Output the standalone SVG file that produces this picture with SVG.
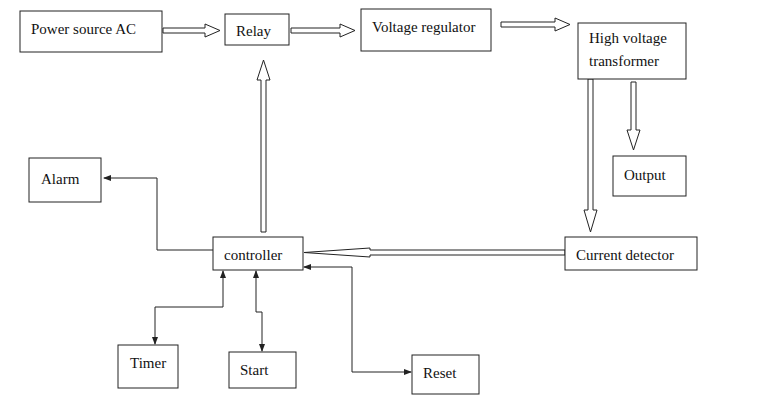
<svg xmlns="http://www.w3.org/2000/svg" width="768" height="412" viewBox="0 0 768 412">
<style>
.b{fill:#fff;stroke:#222;stroke-width:1}
.t{font-family:"Liberation Serif","Times New Roman","DejaVu Serif",serif;font-size:15px;fill:#111}
.h{fill:#fff;stroke:#222;stroke-width:1}
.l{fill:none;stroke:#222;stroke-width:1}
</style>
<defs>
<marker id="a" markerWidth="8" markerHeight="6" refX="7" refY="3" orient="auto-start-reverse" markerUnits="userSpaceOnUse"><path d="M0,0 L8,3 L0,6 z" fill="#222"/></marker>
</defs>
<rect width="768" height="412" fill="#fff"/>
<g id="connectors">
<path class="h" d="M163,28 H205 V24 L220,30.5 L205,37 V33 H163 z"/>
<path class="h" d="M291,28 H340 V24 L355,30.5 L340,37 V33 H291 z"/>
<path class="h" d="M501,22 H555 V18 L570,24.5 L555,31 V27 H501 z"/>
<path class="h" d="M261,232 V80 H257 L263.5,60 L270,80 H266 V232 z"/>
<path class="h" d="M588,79 V210 H584 L590.5,232 L597,210 H593 V79 z"/>
<path class="h" d="M631,82 V130 H627 L633.5,150 L640,130 H636 V82 z"/>
<path class="h" d="M565,250 H370 V248 L304,252.5 L370,257 V255 H565 z"/>
<polyline class="l" points="213,250 157,250 157,178 104,178" marker-end="url(#a)"/>
<polyline class="l" points="223,271 223,307 155,307 155,344" marker-start="url(#a)" marker-end="url(#a)"/>
<polyline class="l" points="256,271 256,312 262,312 262,351" marker-start="url(#a)" marker-end="url(#a)"/>
<polyline class="l" points="304,267 352,267 352,372 411,372" marker-start="url(#a)" marker-end="url(#a)"/>
</g>
<g id="power"><rect class="b" x="20" y="11" width="142" height="41"/><text class="t" x="31" y="34">Power source AC</text></g>
<g id="relay"><rect class="b" x="225" y="14" width="64" height="31"/><text class="t" x="236" y="36">Relay</text></g>
<g id="vreg"><rect class="b" x="361" y="9" width="130" height="42"/><text class="t" x="372" y="32">Voltage regulator</text></g>
<g id="hvt"><rect class="b" x="578" y="23" width="108" height="56"/><text class="t" x="589" y="43">High  voltage</text><text class="t" x="589" y="66">transformer</text></g>
<g id="output"><rect class="b" x="613" y="156" width="73" height="40"/><text class="t" x="624" y="180">Output</text></g>
<g id="alarm"><rect class="b" x="29" y="158" width="72" height="44"/><text class="t" x="41" y="184">Alarm</text></g>
<g id="controller"><rect class="b" x="213" y="237" width="90" height="33"/><text class="t" x="224" y="260">controller</text></g>
<g id="detector"><rect class="b" x="565" y="237" width="132" height="33"/><text class="t" x="576" y="260">Current detector</text></g>
<g id="timer"><rect class="b" x="118" y="345" width="60" height="43"/><text class="t" x="130" y="368">Timer</text></g>
<g id="start"><rect class="b" x="229" y="352" width="67" height="36"/><text class="t" x="240" y="375">Start</text></g>
<g id="reset"><rect class="b" x="412" y="355" width="67" height="39"/><text class="t" x="423" y="378">Reset</text></g>
</svg>
